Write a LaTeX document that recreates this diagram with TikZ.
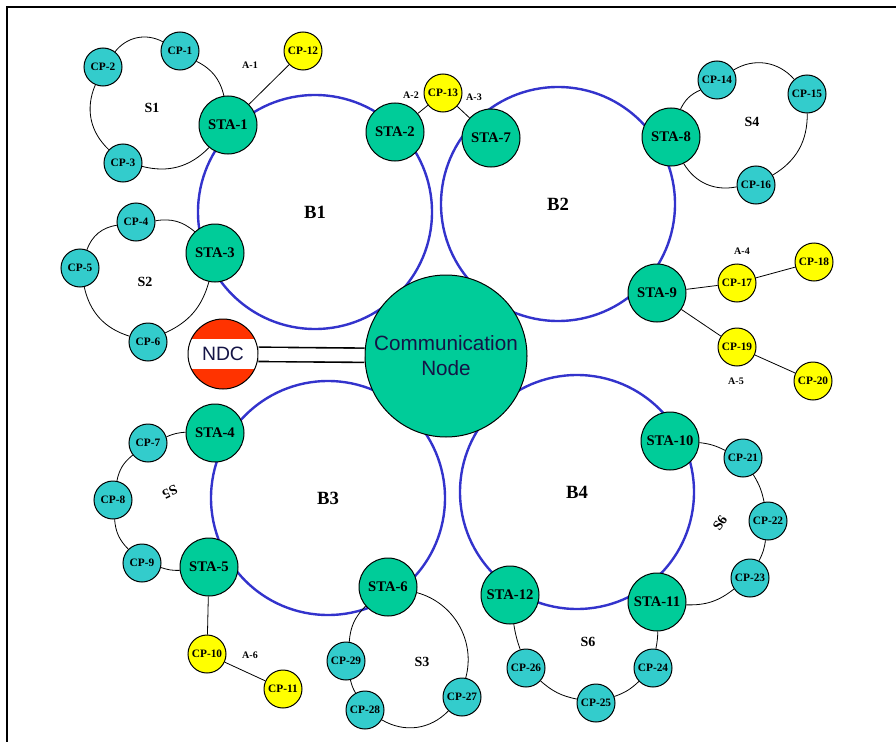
\documentclass[tikz,border=0pt]{standalone}
\usepackage{fontspec}
\setmainfont{Liberation Serif}
\newfontfamily\arialfont{Liberation Sans}

\definecolor{stagreen}{RGB}{0,204,153}
\definecolor{cpcyan}{RGB}{51,204,204}
\definecolor{apyellow}{RGB}{255,255,0}
\definecolor{ndcred}{RGB}{255,51,0}
\definecolor{ringblue}{RGB}{51,51,204}
\definecolor{textnavy}{RGB}{20,20,70}

\tikzset{every picture/.style={line width=0.75pt}}
\tikzset{
	stanode/.style={circle, draw=black, fill=stagreen, minimum size=43.5pt, inner sep=0pt, font=\bfseries\fontsize{11}{12}\selectfont},
	cpnode/.style={circle, draw=black, fill=cpcyan, minimum size=28.5pt, inner sep=0pt, font=\bfseries\fontsize{8.5}{9}\selectfont},
	apnode/.style={cpnode, fill=apyellow},
	bring/.style={circle, draw=ringblue, line width=1.8pt, minimum size=175.5pt, inner sep=0pt, font=\bfseries\fontsize{14}{16}\selectfont},
	ringlabel/.style={font=\bfseries\fontsize{10.5}{12}\selectfont},
	linklabel/.style={font=\bfseries\fontsize{7.5}{9}\selectfont},
	link/.style={draw=black, line width=0.6pt},
}

\begin{document}
\begin{tikzpicture}[x=0.75pt,y=0.75pt,yscale=-1,xscale=1]
	\useasboundingbox (0,0) rectangle (896,742);
	
	%Frame
	\draw [line width=2.2pt]  (7,742) -- (7,7) -- (896,7) ;
	
	%Shape: Circle (blue rings)
	\node [bring] (b1) at (315,212) {B1};
	\node [bring] (b2) at (558,204) {B2};
	\node [bring] (b3) at (328,498) {B3};
	\node [bring] (b4) at (577,492) {B4};
	
	%Shape: Circle (communication node)
	\node [circle, draw=black, fill=stagreen, minimum size=121.5pt, inner sep=0pt, align=center, text=textnavy, font=\arialfont\fontsize{15.5}{18.75}\selectfont] (comm) at (446,356) {Communication\\Node};
	
	%Shape: Circle (NDC)
	\node [circle, draw=black, fill=ndcred, minimum size=52.5pt, inner sep=0pt, text=textnavy, font=\arialfont\fontsize{14.5}{16}\selectfont,
		path picture={\fill [white] ([yshift=-11.25pt]path picture bounding box.west) rectangle ([yshift=11.25pt]path picture bounding box.east);}] (ndc) at (223,354) {NDC};
	
	%Shape: Circle (stations)
	\node [stanode] (sta1) at (228,125) {STA-1};
	\node [stanode] (sta2) at (395,132) {STA-2};
	\node [stanode] (sta3) at (215,253) {STA-3};
	\node [stanode] (sta4) at (215,433) {STA-4};
	\node [stanode] (sta5) at (209,567) {STA-5};
	\node [stanode] (sta6) at (388,587) {STA-6};
	\node [stanode] (sta7) at (491,138) {STA-7};
	\node [stanode] (sta8) at (671,137) {STA-8};
	\node [stanode] (sta9) at (657,293) {STA-9};
	\node [stanode] (sta10) at (670,441) {STA-10};
	\node [stanode] (sta11) at (657,602) {STA-11};
	\node [stanode] (sta12) at (510,595) {STA-12};
	
	%Shape: Circle (cps)
	\node [cpnode] (cp1) at (180,51) {CP-1};
	\node [cpnode] (cp2) at (103,67) {CP-2};
	\node [cpnode] (cp3) at (123,163) {CP-3};
	\node [cpnode] (cp4) at (136,222) {CP-4};
	\node [cpnode] (cp5) at (80,268) {CP-5};
	\node [cpnode] (cp6) at (148,342) {CP-6};
	\node [cpnode] (cp7) at (148,443) {CP-7};
	\node [cpnode] (cp8) at (113,500) {CP-8};
	\node [cpnode] (cp9) at (142,563) {CP-9};
	\node [apnode] (cp10) at (207,654) {CP-10};
	\node [apnode] (cp11) at (283,689) {CP-11};
	\node [apnode] (cp12) at (303,51) {CP-12};
	\node [apnode] (cp13) at (443,93) {CP-13};
	\node [cpnode] (cp14) at (717,80) {CP-14};
	\node [cpnode] (cp15) at (807,94) {CP-15};
	\node [cpnode] (cp16) at (756,185) {CP-16};
	\node [apnode] (cp17) at (737,283) {CP-17};
	\node [apnode] (cp18) at (814,262) {CP-18};
	\node [apnode] (cp19) at (737,347) {CP-19};
	\node [apnode] (cp20) at (813,381) {CP-20};
	\node [cpnode] (cp21) at (743,458) {CP-21};
	\node [cpnode] (cp22) at (768,521) {CP-22};
	\node [cpnode] (cp23) at (750,578) {CP-23};
	\node [cpnode] (cp24) at (653,668) {CP-24};
	\node [cpnode] (cp25) at (596,703) {CP-25};
	\node [cpnode] (cp26) at (526,668) {CP-26};
	\node [cpnode] (cp27) at (462,697) {CP-27};
	\node [cpnode] (cp28) at (365,710) {CP-28};
	\node [cpnode] (cp29) at (346,661) {CP-29};
	
	%Double Line (NDC link)
	\draw [double, line width=1.2pt, double distance=9.5pt] (ndc) -- (comm) ;
	
	%Curve Lines (rings)
	\draw [link] (sta1) edge[bend left=25] (cp1) (cp1) edge[bend left=40] (cp2) (cp2) edge[bend left=35] (cp3) (cp3) edge[bend left=30] (sta1) ;
	\draw [link] (sta3) edge[bend left=25] (cp4) (cp4) edge[bend left=30] (cp5) (cp5) edge[bend left=30] (cp6) (cp6) edge[bend left=25] (sta3) ;
	\draw [link] (sta8) edge[bend left=35] (cp16) (cp16) edge[bend left=30] (cp15) (cp15) edge[bend left=40] (cp14) (cp14) edge[bend left=20] (sta8) ;
	\draw [link] (sta6) edge[bend left=20] (cp29) (cp29) edge[bend left=8] (cp28) (cp28) edge[bend left=38] (cp27) (cp27) edge[bend left=45] (sta6) ;
	\draw [link] (sta4) edge[bend left=10] (cp7) (cp7) edge[bend left=20] (cp8) (cp8) edge[bend left=20] (cp9) (cp9) edge[bend left=10] (sta5) ;
	\draw [link] (sta10) edge[bend right=10] (cp21) (cp21) edge[bend right=10] (cp22) (cp22) edge[bend right=10] (cp23) (cp23) edge[bend right=20] (sta11) ;
	\draw [link] (sta11) edge[bend right=5] (cp24) (cp24) edge[bend right=12] (cp25) (cp25) edge[bend right=15] (cp26) (cp26) edge[bend right=5] (sta12) ;
	
	%Straight Lines (access links)
	\draw [link] (sta1) -- (cp12) ;
	\draw [link] (sta2) -- (cp13) ;
	\draw [link] (cp13) -- (sta7) ;
	\draw [link] (sta9) -- (cp17) ;
	\draw [link] (cp17) -- (cp18) ;
	\draw [link] (sta9) -- (cp19) ;
	\draw [link] (cp19) -- (cp20) ;
	\draw [link] (sta5) -- (cp10) ;
	\draw [link] (cp10) -- (cp11) ;
	
	% Text Node
	\node [ringlabel] (s1) at (152,108) {S1};
	% Text Node
	\node [ringlabel] (s2) at (145,282) {S2};
	% Text Node
	\node [ringlabel] (s3) at (422,662) {S3};
	% Text Node
	\node [ringlabel] (s4) at (752,122) {S4};
	% Text Node
	\node [ringlabel, rotate=205] (s5) at (170,492) {S5};
	% Text Node
	\node [ringlabel, rotate=55] (s6a) at (720,523) {S6};
	% Text Node
	\node [ringlabel] (s6b) at (588,642) {S6};
	% Text Node
	\node [linklabel] (a1) at (250,65) {A-1};
	% Text Node
	\node [linklabel] (a2) at (411,95) {A-2};
	% Text Node
	\node [linklabel] (a3) at (474,97) {A-3};
	% Text Node
	\node [linklabel] (a4) at (742,251) {A-4};
	% Text Node
	\node [linklabel] (a5) at (736,381) {A-5};
	% Text Node
	\node [linklabel] (a6) at (250,655) {A-6};
	
\end{tikzpicture}
\end{document}
